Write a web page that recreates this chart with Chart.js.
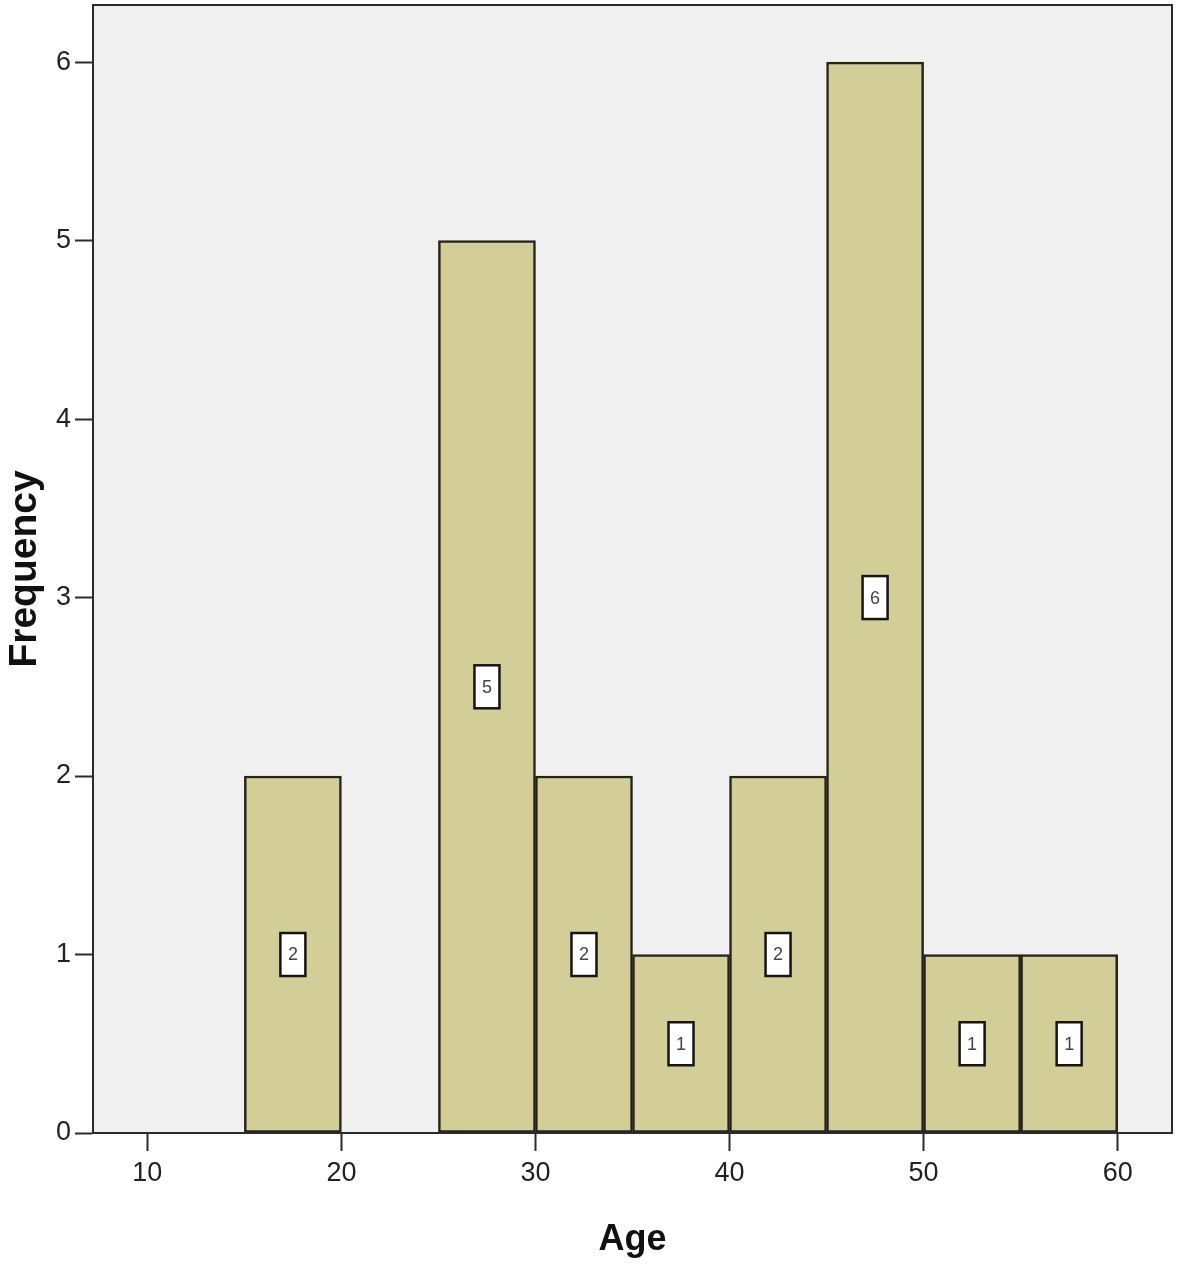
<!DOCTYPE html>
<html>
<head>
<meta charset="utf-8">
<script src="https://cdn.jsdelivr.net/npm/chart.js@4"></script>
<style>
  html, body { margin: 0; padding: 0; background: #fff; }
  #wrap { width: 1181px; height: 1269px; }
</style>
</head>
<body>
<div id="wrap"><canvas id="ageChart"></canvas></div>
<script>
// histogram bins (width 5) and frequencies
const binStarts = [15, 20, 25, 30, 35, 40, 45, 50, 55];
const counts = [2, 0, 5, 2, 1, 2, 6, 1, 1];
const binWidth = 5;
const xTicks = [10, 20, 30, 40, 50, 60];
const yTicks = [0, 1, 2, 3, 4, 5, 6];

const barData = binStarts
    .map((s, i) => ({ x: s + binWidth / 2, y: counts[i] }))
    .filter(d => d.y > 0);

const frame = {
    id: 'frame',
    beforeDatasetsDraw(chart) {
        const a = chart.chartArea, ctx = chart.ctx;
        ctx.save();
        ctx.fillStyle = '#f0f0f0';
        ctx.fillRect(a.left, a.top, a.right - a.left, a.bottom - a.top);
        ctx.restore();
    },
    afterDraw(chart) {
        const a = chart.chartArea, ctx = chart.ctx;
        const xs = chart.scales.x, ys = chart.scales.y;
        ctx.save();
        // value boxes at half height of each bar
        ctx.font = '18px "Liberation Sans", Arial, sans-serif';
        ctx.textAlign = 'center';
        ctx.textBaseline = 'middle';
        barData.forEach(d => {
            const cx = xs.getPixelForValue(d.x);
            const cy = ys.getPixelForValue(d.y / 2);
            ctx.fillStyle = '#ffffff';
            ctx.fillRect(cx - 12.5, cy - 21.5, 25, 43);
            ctx.strokeStyle = '#151515';
            ctx.lineWidth = 2.5;
            ctx.strokeRect(cx - 12.5, cy - 21.5, 25, 43);
            ctx.fillStyle = '#444';
            ctx.fillText(String(d.y), cx, cy + 1);
        });
        ctx.strokeStyle = '#2b2b2b';
        ctx.lineWidth = 2;
        ctx.strokeRect(a.left, a.top, a.right - a.left, a.bottom - a.top);
        ctx.restore();
    }
};

const ctx = document.getElementById('ageChart').getContext('2d');
new Chart(ctx, {
    type: 'bar',
    data: {
        datasets: [{
            label: 'Frequency',
            data: barData,
            backgroundColor: 'rgb(211, 206, 151)',
            borderColor: '#24241a',
            borderWidth: 2.5,
            borderSkipped: false,
            barPercentage: 1,
            categoryPercentage: 1
        }]
    },
    options: {
        responsive: true,
        maintainAspectRatio: false,
        animation: false,
        layout: { padding: { top: 5, right: 9, left: 0, bottom: 0 } },
        plugins: {
            legend: { display: false },
            tooltip: { enabled: false }
        },
        scales: {
            x: {
                type: 'linear',
                min: 7.2,
                max: 62.8,
                offset: false,
                afterFit: s => { s.height = 136; s.paddingLeft = 0; s.paddingRight = 0; },
                afterBuildTicks: s => { s.ticks = xTicks.map(v => ({ value: v })); },
                grid: { offset: false, drawOnChartArea: false, tickLength: 18, tickColor: '#2b2b2b', tickWidth: 2 },
                border: { color: '#2b2b2b', width: 2 },
                ticks: {
                    padding: 6,
                    color: '#222',
                    font: { family: '"Liberation Sans", Arial, sans-serif', size: 27 }
                },
                title: {
                    display: true,
                    text: 'Age',
                    color: '#111',
                    padding: { top: 0, bottom: 7 },
                    font: { family: '"Liberation Sans", Arial, sans-serif', size: 36, weight: 'bold' }
                }
            },
            y: {
                min: 0,
                max: 6.32,
                afterFit: s => { s.width = 93; s.paddingTop = 0; s.paddingBottom = 0; },
                afterBuildTicks: s => { s.ticks = yTicks.map(v => ({ value: v })); },
                grid: { drawOnChartArea: false, tickLength: 18, tickColor: '#2b2b2b', tickWidth: 2 },
                border: { color: '#2b2b2b', width: 2 },
                ticks: {
                    padding: 4,
                    color: '#222',
                    font: { family: '"Liberation Sans", Arial, sans-serif', size: 27 }
                },
                title: {
                    display: true,
                    text: 'Frequency',
                    color: '#111',
                    padding: { top: 2, bottom: 0 },
                    font: { family: '"Liberation Sans", Arial, sans-serif', size: 39, weight: 'bold' }
                }
            }
        }
    },
    plugins: [frame]
});
</script>
</body>
</html>
